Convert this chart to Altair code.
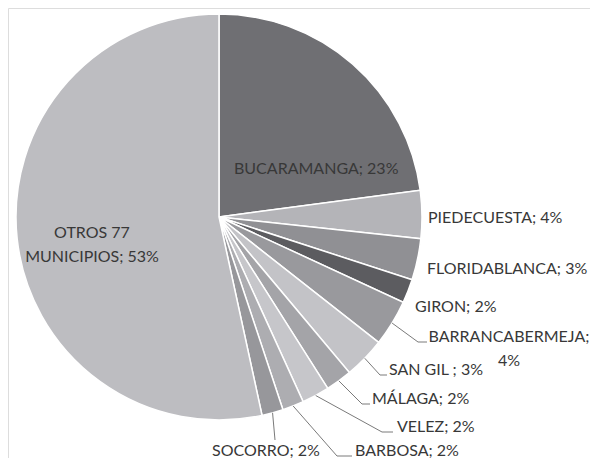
import altair as alt
import pandas as pd
import math

# ---- data (shares in %, clockwise from 12 o'clock) ----
names = ["BUCARAMANGA", "PIEDECUESTA", "FLORIDABLANCA", "GIRON", "BARRANCABERMEJA",
         "SAN GIL", "MÁLAGA", "VELEZ", "BARBOSA", "SOCORRO", "OTROS 77 MUNICIPIOS"]
shares = [22.9, 3.8, 3.3, 1.9, 3.7, 3.3, 2.1, 2.2, 1.7, 1.7, 53.4]
pct_labels = ["23%", "4%", "3%", "2%", "4%", "3%", "2%", "2%", "2%", "2%", "53%"]

# label text lines per slice
label_texts = [
    ["BUCARAMANGA; 23%"],
    ["PIEDECUESTA; 4%"],
    ["FLORIDABLANCA; 3%"],
    ["GIRON; 2%"],
    ["BARRANCABERMEJA;", "4%"],
    ["SAN GIL ; 3%"],
    ["MÁLAGA; 2%"],
    ["VELEZ; 2%"],
    ["BARBOSA; 2%"],
    ["SOCORRO; 2%"],
    ["OTROS 77", "MUNICIPIOS; 53%"],
]

# ---- styling / layout (pixel offsets from the pie centre, y downwards) ----
colors = ["#6f6f73", "#b4b4b8", "#909094", "#5c5c60", "#99999d",
          "#c3c3c7", "#a4a4a8", "#c6c6ca", "#adadb1", "#97979b", "#bdbdc1"]
R = 203
# first-line anchor (dx, dy of baseline), align
label_layout = [
    (15, -43, "left"),
    (209, 6, "left"),
    (208, 57, "left"),
    (196, 95, "left"),
    (290, 125, "center"),
    (170, 158, "left"),
    (153, 187, "left"),
    (178, 215, "left"),
    (136, 239, "left"),
    (-7, 239, "left"),
    (-127, 21, "center"),
]
line_gap = 24
# leader lines: slice index -> (elbow, end)
leaders = {
    4: [(199, 125), (208, 125)],
    5: [(161, 158), (168, 158)],
    6: [(143, 187), (151, 187)],
    7: [(163, 215), (174, 215)],
    8: [(118, 239), (133, 239)],
    9: [(56, 223)],
}

W, H = 582, 450
CX, CY = 211, 209

pie_df = pd.DataFrame({"idx": range(len(names)), "name": names, "share": shares,
                       "cx": 0, "cy": 0})

rows = []
for i, lines in enumerate(label_texts):
    dx, dy, al = label_layout[i]
    for k, t in enumerate(lines):
        rows.append({"name": names[i], "text": t, "x": dx, "y": dy + k * line_gap, "align": al})
lab_df = pd.DataFrame(rows)

total = sum(shares)
cum = 0
lead_rows = []
for i, s in enumerate(shares):
    mid = (cum + s / 2) / total * 2 * math.pi
    cum += s
    if i in leaders:
        pts = [(R * math.sin(mid), -R * math.cos(mid))] + leaders[i]
        for k, (px, py) in enumerate(pts):
            lead_rows.append({"name": names[i], "pt": k, "x": px, "y": py})
lead_df = pd.DataFrame(lead_rows)

xs = alt.Scale(domain=[-CX, W - CX], nice=False, zero=False)
ys = alt.Scale(domain=[-CY, H - CY], nice=False, zero=False, reverse=True)

pie = alt.Chart(pie_df).mark_arc(outerRadius=R, stroke="white", strokeWidth=1.5).encode(
    theta=alt.Theta("share:Q", stack=True),
    color=alt.Color("name:N", scale=alt.Scale(domain=names, range=colors), legend=None),
    order=alt.Order("idx:Q"),
    x=alt.X("cx:Q", scale=xs, axis=None),
    y=alt.Y("cy:Q", scale=ys, axis=None),
)

lines = alt.Chart(lead_df).mark_line(color="#7a7a7a", strokeWidth=1).encode(
    x=alt.X("x:Q", scale=xs, axis=None),
    y=alt.Y("y:Q", scale=ys, axis=None),
    detail="name:N",
    order="pt:Q",
)

txt_common = dict(font="Lato", fontSize=16, color="#383838", baseline="alphabetic")
left_txt = alt.Chart(lab_df[lab_df["align"] == "left"]).mark_text(align="left", **txt_common).encode(
    x=alt.X("x:Q", scale=xs, axis=None),
    y=alt.Y("y:Q", scale=ys, axis=None),
    text="text:N",
)
center_txt = alt.Chart(lab_df[lab_df["align"] == "center"]).mark_text(align="center", **txt_common).encode(
    x=alt.X("x:Q", scale=xs, axis=None),
    y=alt.Y("y:Q", scale=ys, axis=None),
    text="text:N",
)

chart = alt.layer(pie, lines, left_txt, center_txt).properties(
    width=W, height=H, autosize=alt.AutoSizeParams(type="none"), padding=0
).configure_view(stroke=None).configure(background="white")

chart.save("out.html", embed_options={"renderer": "svg", "actions": False})
